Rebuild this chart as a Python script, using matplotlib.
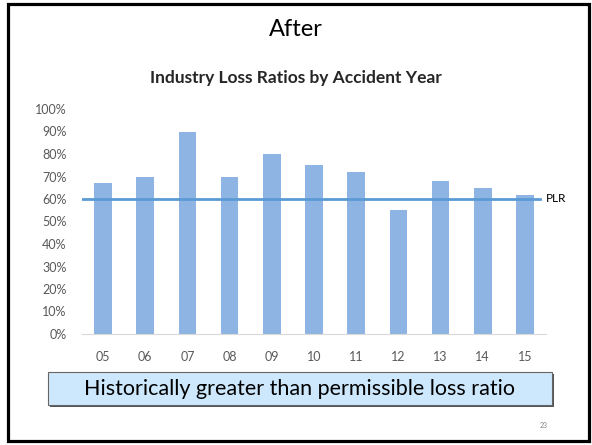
import matplotlib
matplotlib.use("Agg")
import matplotlib.pyplot as plt
from matplotlib.patches import Rectangle

years = ["05", "06", "07", "08", "09", "10", "11", "12", "13", "14", "15"]
loss_ratios = [0.67, 0.70, 0.90, 0.70, 0.80, 0.75, 0.72, 0.55, 0.68, 0.65, 0.62]
plr = 0.60
y_ticks = [0.0, 0.1, 0.2, 0.3, 0.4, 0.5, 0.6, 0.7, 0.8, 0.9, 1.0]

W, H = 592, 445
fig = plt.figure(figsize=(W / 100, H / 100), dpi=100)
plt.rcParams['font.family'] = ['Lato', 'DejaVu Sans']

# slide frame
fig.patches.append(Rectangle((8 / W, 4 / H), 581 / W, 437 / H, transform=fig.transFigure,
                             fill=False, edgecolor='black', linewidth=2.3))

fig.text(296 / W, 1 - 30 / H, "After", ha='center', va='center', fontsize=17)
fig.text(296 / W, 1 - 78 / H, "Industry Loss Ratios by Accident Year", ha='center', va='center',
         fontsize=12.5, fontweight='bold', color='#262626')

ax = fig.add_axes([82 / W, 1 - 334 / H, (546 - 82) / W, 225 / H])
x = list(range(len(years)))
ax.bar(x, loss_ratios, width=0.42, color='#8DB4E2')
ax.plot([-0.5, 10.35], [plr, plr], color='#5B9BD5', linewidth=2)
ax.text(10.5, plr, "PLR", ha='left', va='center', fontsize=8.5)

ax.set_xlim(-0.5, 10.5)
ax.set_ylim(0, 1)
ax.set_xticks(x)
ax.set_xticklabels(years)
ax.set_yticks(y_ticks)
ax.set_yticklabels([f"{int(round(v * 100))}%" for v in y_ticks])
ax.tick_params(axis='both', length=0, labelsize=9, labelcolor='#595959')
ax.tick_params(axis='x', pad=12)
ax.tick_params(axis='y', pad=11)
for s in ['top', 'right', 'left']:
    ax.spines[s].set_visible(False)
ax.spines['bottom'].set_color('#D9D9D9')

# caption box with shadow
fig.patches.append(Rectangle((50 / W, 1 - 407 / H), 504 / W, 33 / H, transform=fig.transFigure,
                             facecolor='#555555', edgecolor='none'))
fig.patches.append(Rectangle((48 / W, 1 - 405 / H), 504 / W, 33 / H, transform=fig.transFigure,
                             facecolor='#CDE8FC', edgecolor='#666666', linewidth=0.8))
fig.text(300 / W, 1 - 389 / H, "Historically greater than permissible loss ratio",
         ha='center', va='center', fontsize=15.5)

fig.text(544 / W, 1 - 425 / H, "23", ha='center', va='center', fontsize=5, color='#808080')

fig.savefig("out.png", dpi=100)
